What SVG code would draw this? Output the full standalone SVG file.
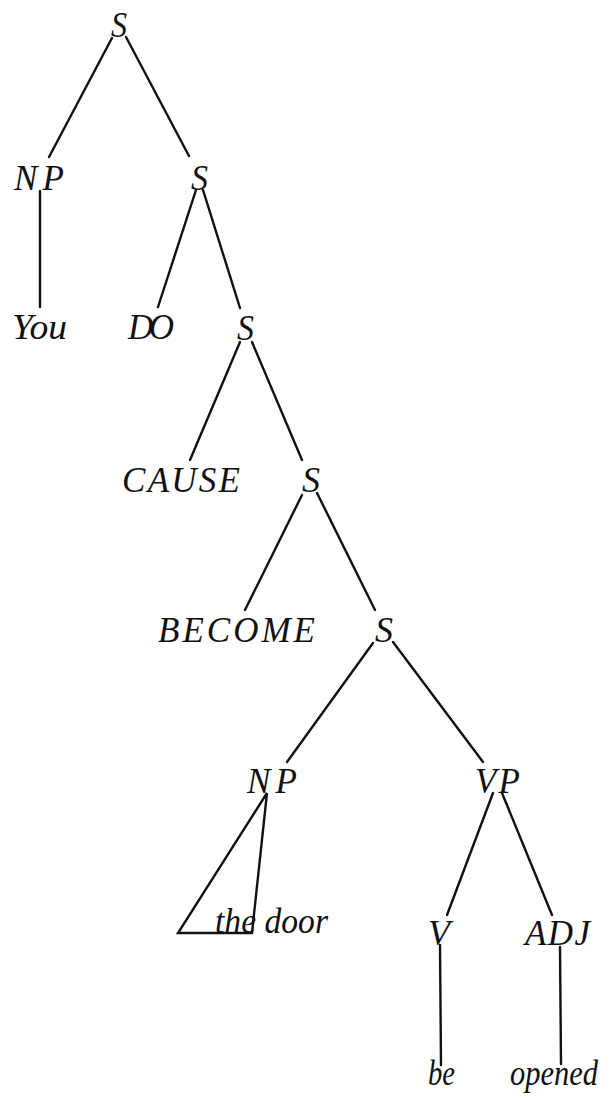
<svg xmlns="http://www.w3.org/2000/svg" width="610" height="1098" viewBox="0 0 610 1098">
<style>
text{font-family:"Liberation Serif","DejaVu Serif",serif;font-style:italic;font-size:35px;fill:#111}
.e{stroke:#111;stroke-width:2.4;fill:none;stroke-linecap:round}
</style>
<rect width="610" height="1098" fill="#fff"/>
<g id="connectors">
<line class="e" x1="112" y1="38" x2="49" y2="157"/>
<line class="e" x1="126" y1="37" x2="189" y2="156"/>
<line class="e" x1="40" y1="191" x2="40" y2="307"/>
<line class="e" x1="196" y1="190" x2="158" y2="307"/>
<line class="e" x1="203" y1="190" x2="240" y2="308"/>
<line class="e" x1="240" y1="342" x2="190" y2="460"/>
<line class="e" x1="252" y1="342" x2="302" y2="460"/>
<line class="e" x1="302" y1="495" x2="245" y2="610"/>
<line class="e" x1="317" y1="493" x2="375" y2="610"/>
<line class="e" x1="373" y1="643" x2="287" y2="762"/>
<line class="e" x1="393" y1="642" x2="483" y2="762"/>
<polygon class="e" points="267,793 178,933 252,933"/>
<line class="e" x1="493" y1="793" x2="447" y2="915"/>
<line class="e" x1="502" y1="793" x2="552" y2="915"/>
<line class="e" x1="440" y1="945" x2="441" y2="1065"/>
<line class="e" x1="560" y1="947" x2="561" y2="1064"/>
</g>
<g id="n-s1"><text x="111" y="37" textLength="16" lengthAdjust="spacingAndGlyphs">S</text></g>
<g id="n-np1"><text x="14" y="190" textLength="50" lengthAdjust="spacing">NP</text></g>
<g id="n-s2"><text x="191" y="190" textLength="17" lengthAdjust="spacingAndGlyphs">S</text></g>
<g id="n-you"><text x="12" y="339" textLength="55" lengthAdjust="spacingAndGlyphs">You</text></g>
<g id="n-do"><text x="128" y="339" textLength="46" lengthAdjust="spacing">DO</text></g>
<g id="n-s3"><text x="237" y="340" textLength="17" lengthAdjust="spacingAndGlyphs">S</text></g>
<g id="n-cause"><text x="122" y="492" textLength="118" lengthAdjust="spacing">CAUSE</text></g>
<g id="n-s4"><text x="302" y="492" textLength="18" lengthAdjust="spacingAndGlyphs">S</text></g>
<g id="n-become"><text x="158" y="642" textLength="157" lengthAdjust="spacing">BECOME</text></g>
<g id="n-s5"><text x="375" y="642" textLength="18" lengthAdjust="spacingAndGlyphs">S</text></g>
<g id="n-np2"><text x="247" y="793" textLength="50" lengthAdjust="spacing">NP</text></g>
<g id="n-vp"><text x="475" y="793" textLength="45" lengthAdjust="spacing">VP</text></g>
<g id="n-thedoor"><text x="215" y="933" textLength="113" lengthAdjust="spacingAndGlyphs">the door</text></g>
<g id="n-v"><text x="428" y="945" textLength="22" lengthAdjust="spacingAndGlyphs">V</text></g>
<g id="n-adj"><text x="525" y="945" textLength="65" lengthAdjust="spacing">ADJ</text></g>
<g id="n-be"><text x="428" y="1085" font-size="32" textLength="27" lengthAdjust="spacingAndGlyphs">be</text></g>
<g id="n-opened"><text x="510" y="1085" font-size="32" textLength="88" lengthAdjust="spacingAndGlyphs">opened</text></g>
</svg>
